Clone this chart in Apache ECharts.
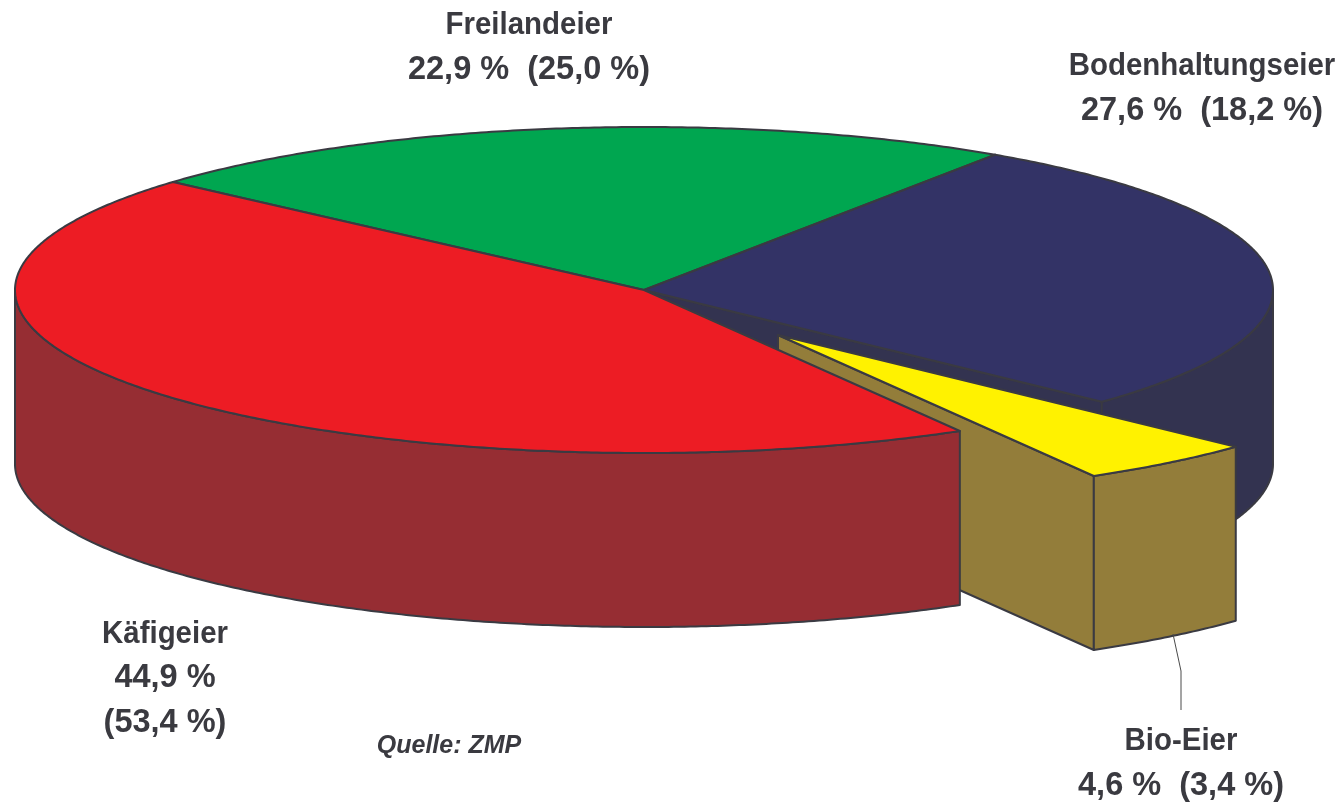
<!DOCTYPE html>
<html>
<head>
<meta charset="utf-8">
<style>
  html, body { margin: 0; padding: 0; background: #fff; }
  #main { width: 1341px; height: 803px; }
</style>
<script src="https://cdn.jsdelivr.net/npm/echarts@6/dist/echarts.min.js"></script>
</head>
<body>
<div id="main"></div>
<script>
// Anteile in Prozent, im Uhrzeigersinn ab der linken Kante von "Freilandeier"
var categories = ['Freilandeier', 'Bodenhaltungseier', 'Bio-Eier', 'Käfigeier'];
var shares = [22.9, 27.6, 4.6, 44.9];
var previous = [25.0, 18.2, 3.4, 53.4];

// Aussehen der Stücke
var topColors = ['#00a650', '#333366', '#fff200', '#ed1c24'];
var sideColors = ['#00763a', '#333350', '#937d3a', '#962d33'];
var pulled = [[0, 0], [0, 0], [134, 45], [0, 0]];

var cx = 644, cy = 290, rx = 629, ry = 163, depth = 174;
var startAngle = 138.5;
var edge = '#3a3a42';
var textColor = '#3a3a40';
var nameFont = 'bold 32px "Liberation Sans", Arial, sans-serif';
var numberFont = 'bold 32.5px "Liberation Sans", Arial, sans-serif';

function num(v) {
    return v.toFixed(1).replace('.', ',') + ' %';
}

function oneLine(i) {
    return [categories[i], num(shares[i]) + '  (' + num(previous[i]) + ')'];
}

function threeLines(i) {
    return [categories[i], num(shares[i]), '(' + num(previous[i]) + ')'];
}

// Beschriftungen: Mitte x, Mitte y der ersten Zeile, Zeilenabstand
var labelBoxes = [
    { x: 529, y: 25, gap: 45, lines: oneLine },
    { x: 1202, y: 66, gap: 45, lines: oneLine },
    { x: 1181, y: 741, gap: 45, lines: oneLine },
    { x: 165, y: 634, gap: 44.5, lines: threeLines }
];

function pt(deg, ox, oy, down) {
    var a = deg * Math.PI / 180;
    return [cx + ox + rx * Math.cos(a), cy + oy - ry * Math.sin(a) + (down || 0)];
}

function arc(from, to, ox, oy, down) {
    var pts = [];
    var n = Math.max(2, Math.ceil(Math.abs(from - to) * 2));
    for (var k = 0; k <= n; k++) {
        pts.push(pt(from + (to - from) * k / n, ox, oy, down));
    }
    return pts;
}

function face(points, fill) {
    return {
        type: 'polygon',
        shape: { points: points },
        style: { fill: fill, stroke: edge, lineWidth: 2, lineJoin: 'round' }
    };
}

function renderSlice(params, api) {
    var i = params.dataIndex;
    var before = 0;
    for (var k = 0; k < i; k++) before += shares[k];
    var a0 = startAngle - before * 3.6;
    var a1 = a0 - api.value(1) * 3.6;
    var ox = pulled[i][0], oy = pulled[i][1];
    var mid = [cx + ox, cy + oy];
    var children = [];

    // Schnittfläche, nur wenn sie zum Betrachter zeigt
    if (Math.sin((a1 - 90) * Math.PI / 180) < 0) {
        var e = pt(a1, ox, oy);
        children.push(face([mid, e, [e[0], e[1] + depth], [mid[0], mid[1] + depth]], sideColors[i]));
    }

    // Außenwand, nur der vordere Teil
    var hi = Math.min(a0, 0), lo = Math.max(a1, -180);
    if (hi > lo) {
        var wall = arc(hi, lo, ox, oy, 0).concat(arc(lo, hi, ox, oy, depth));
        children.push(face(wall, sideColors[i]));
    }

    // Deckfläche
    children.push(face([mid].concat(arc(a0, a1, ox, oy, 0)), topColors[i]));

    var box = labelBoxes[i];
    box.lines(i).forEach(function (line, n) {
        children.push({
            type: 'text',
            z2: 100,
            x: box.x,
            y: box.y + n * box.gap,
            // die Namen stehen im Original enger gesetzt
            scaleX: n === 0 ? 0.92 : 1,
            style: {
                x: 0, y: 0, text: line,
                fill: textColor, align: 'center', verticalAlign: 'middle',
                font: n === 0 ? nameFont : numberFont
            }
        });
    });

    return { type: 'group', children: children };
}

var myChart = echarts.init(document.getElementById('main'), null, { renderer: 'canvas' });
myChart.setOption({
    animation: false,
    backgroundColor: '#fff',
    series: [{
        type: 'custom',
        coordinateSystem: 'none',
        renderItem: renderSlice,
        data: categories.map(function (name, i) {
            return { name: name, value: [i, shares[i], previous[i]] };
        }),
        silent: true
    }],
    graphic: [
        {
            type: 'polyline',
            z: 10,
            shape: { points: [[1173, 634], [1181, 671], [1181, 710]] },
            style: { fill: null, stroke: '#4a4a4a', lineWidth: 1 }
        },
        {
            type: 'text',
            z: 10,
            style: {
                x: 449, y: 746, text: 'Quelle: ZMP', fill: textColor,
                align: 'center', verticalAlign: 'middle',
                font: 'italic bold 25px "Liberation Sans", Arial, sans-serif'
            }
        }
    ]
});
</script>
</body>
</html>
